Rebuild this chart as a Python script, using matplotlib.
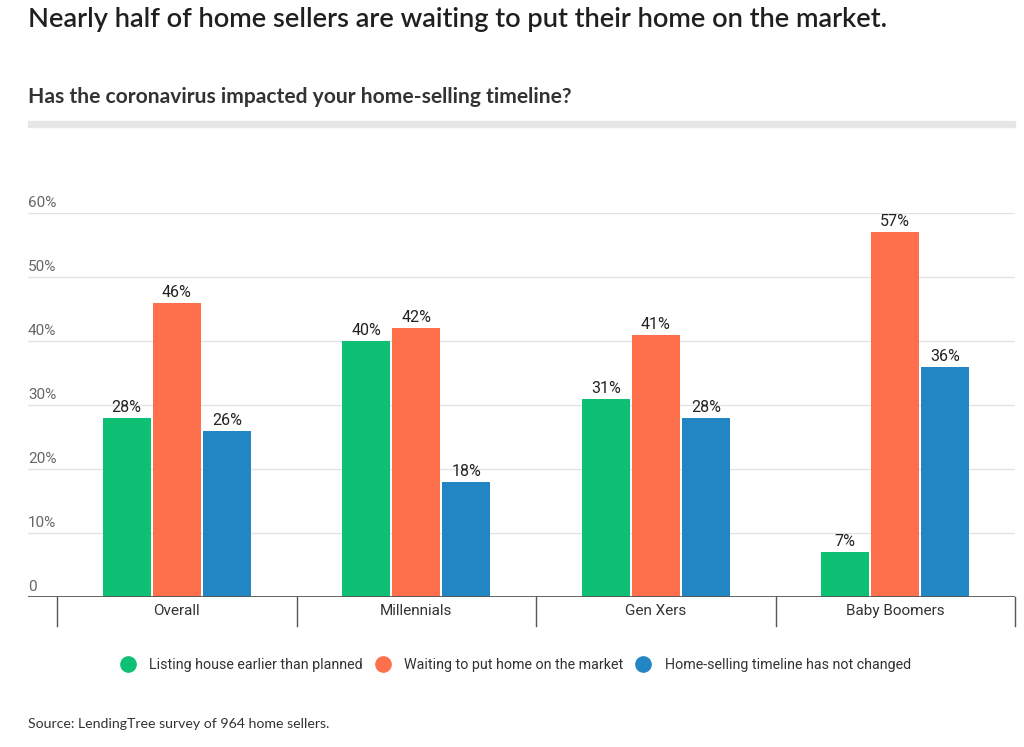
import matplotlib
matplotlib.use("Agg")
import matplotlib.pyplot as plt
import matplotlib.transforms as mtransforms
from matplotlib.lines import Line2D
import numpy as np

# Data
categories = ["Overall", "Millennials", "Gen Xers", "Baby Boomers"]
series_names = ["Listing house earlier than planned",
                "Waiting to put home on the market",
                "Home-selling timeline has not changed"]
earlier = [28, 40, 31, 7]
waiting = [46, 42, 41, 57]
unchanged = [26, 18, 28, 36]
yticks = [0, 10, 20, 30, 40, 50, 60]
ytick_labels = ["0", "10%", "20%", "30%", "40%", "50%", "60%"]

colors = ["#0ec074", "#fe6f4b", "#2386c4"]
series = [earlier, waiting, unchanged]

fig = plt.figure(figsize=(10.24, 7.47), dpi=100)

# Titles
fig.text(28 / 1024, 1 - 20 / 747, "Nearly half of home sellers are waiting to put their home on the market.",
         family="Lato", fontweight="semibold", fontsize=19.6, color="#1f1f1f", va="center", ha="left")
fig.text(28 / 1024, 1 - 97 / 747, "Has the coronavirus impacted your home-selling timeline?",
         family="Lato", fontweight="bold", fontsize=15.1, color="#333333", va="center", ha="left")
fig.patches.append(plt.Rectangle((28 / 1024, 1 - 127 / 747), (1015 - 28) / 1024, 6 / 747,
                                 transform=fig.transFigure, color="#e6e6e6", zorder=0))

ax = fig.add_axes([28 / 1024, 1 - 597 / 747, (1015 - 28) / 1024, (597 - 213) / 747])
x = np.arange(len(categories))
width = 0.2
step = 0.209
for i, (vals, c, name) in enumerate(zip(series, colors, series_names)):
    pos = x + (i - 1) * step
    ax.bar(pos, vals, width=width, color=c, label=name, zorder=3)
    for px, v in zip(pos, vals):
        ax.annotate(f"{v}%", (px, v), xytext=(0, 2), textcoords="offset points",
                    ha="center", va="bottom", family="Roboto", fontsize=11.5, color="#222222")

ax.set_xlim(-0.5 - 29 / 239.5, 3.5)
ax.set_ylim(0, 60)
for s in ax.spines.values():
    s.set_visible(False)
ax.set_xticks([])
ax.set_yticks([])
for t, lab in zip(yticks, ytick_labels):
    if t > 0:
        ax.axhline(t, color="#e3e3e3", lw=1, zorder=1)
    ax.annotate(lab, (0, t), xycoords=("axes fraction", "data"), xytext=(0, 2.5),
                textcoords="offset points", ha="left", va="bottom",
                family="Roboto", fontsize=11, color="#666666")
ax.axhline(0, color="#555555", lw=2, zorder=4)

trans = mtransforms.blended_transform_factory(ax.transData, ax.transAxes)
for b in np.arange(-0.5, len(categories), 1.0):
    ax.plot([b, b], [0, -29 / 384], color="#555555", lw=1, transform=trans, clip_on=False)
for xi, cat in zip(x, categories):
    ax.text(xi, -14 / 384, cat, transform=trans, ha="center", va="center",
            family="Roboto", fontsize=11, color="#333333")

handles = [Line2D([], [], marker="o", linestyle="none", markersize=11, color=c) for c in colors]
fig.legend(handles, series_names, loc="center", bbox_to_anchor=(0.503, 1 - 665 / 747), ncol=3,
           frameon=False, handletextpad=0.9, columnspacing=0.8, handlelength=1.2,
           prop={"family": "Roboto", "size": 10.3})
for t in fig.legends[0].get_texts():
    t.set_color("#333333")

fig.text(28 / 1024, 1 - 724 / 747, "Source: LendingTree survey of 964 home sellers.",
         family="Lato", fontsize=10.2, color="#333333", va="center", ha="left")

fig.savefig("out.png", dpi=100, facecolor="white")
